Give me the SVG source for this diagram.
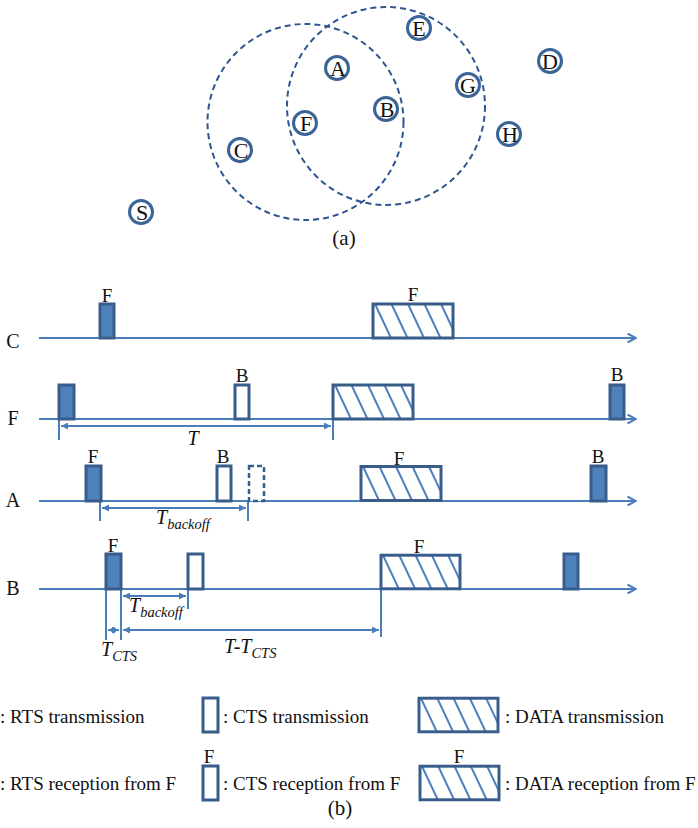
<svg xmlns="http://www.w3.org/2000/svg" xmlns:xlink="http://www.w3.org/1999/xlink" width="698" height="828" viewBox="0 0 698 828">
  <style>
    text { font-family: "Liberation Serif", "Times New Roman", serif; fill: #111; }
    .node circle { fill: #fff; stroke: #3B6497; stroke-width: 3; }
    .node text { font-size: 22px; text-anchor: middle; }
    .range { fill: none; stroke: #2F5590; stroke-width: 2; stroke-dasharray: 6 4; }
    .axis { fill: none; stroke: #4A7EBB; stroke-width: 2.2; marker-end: url(#open); }
    .dim { fill: none; stroke: #4A7EBB; stroke-width: 2; }
    .tick { fill: none; stroke: #4A7EBB; stroke-width: 2; }
    .rts { fill: #4F81BD; stroke: #385D8A; stroke-width: 3; }
    .cts { fill: #fff; stroke: #385D8A; stroke-width: 3; }
    .ctsd { fill: #fff; stroke: #385D8A; stroke-width: 2.5; stroke-dasharray: 5 3; }
    .row { font-size: 20px; text-anchor: middle; }
    .tag { font-size: 19px; text-anchor: middle; }
    .legend { font-size: 19px; }
    .it { font-style: italic; }
  </style>
  <defs>
    <marker id="open" viewBox="0 0 10 10" refX="9" refY="5" markerWidth="10" markerHeight="10" markerUnits="userSpaceOnUse" orient="auto">
      <path d="M0.5,0.5 L9,5 L0.5,9.5" fill="none" stroke="#4A7EBB" stroke-width="2"/>
    </marker>
    <marker id="tri" viewBox="0 0 8 8" refX="8" refY="4" markerWidth="8" markerHeight="7" markerUnits="userSpaceOnUse" orient="auto-start-reverse">
      <path d="M0,0 L8,4 L0,8 z" fill="#4A7EBB"/>
    </marker>
    <!-- hatched DATA frame, 80 x 34 -->
    <symbol id="data" viewBox="0 0 80 34" width="80" height="34" overflow="visible">
      <path d="M2,0 L18,34 M18.5,0 L34.5,34 M35,0 L51,34 M51.5,0 L67.5,34 M68,0 L80,25.5" stroke="#4F81BD" stroke-width="2" fill="none"/>
      <rect x="0" y="0" width="80" height="34" fill="none" stroke="#385D8A" stroke-width="3"/>
    </symbol>
  </defs>

  <rect width="698" height="828" fill="#fff"/>

  <!-- (a) topology -->
  <g id="ranges">
    <circle class="range" cx="305.5" cy="122" r="98"/>
    <circle class="range" cx="386" cy="106" r="99"/>
  </g>
  <g id="node-E" class="node"><circle cx="419" cy="28" r="11.5"/><text x="419" y="35.5">E</text></g>
  <g id="node-A" class="node"><circle cx="337" cy="68" r="11.5"/><text x="338" y="75.5">A</text></g>
  <g id="node-D" class="node"><circle cx="550" cy="61" r="11.5"/><text x="550" y="68.5">D</text></g>
  <g id="node-G" class="node"><circle cx="468" cy="85" r="11.5"/><text x="468" y="92.5">G</text></g>
  <g id="node-B" class="node"><circle cx="386" cy="109" r="11.5"/><text x="387" y="116.5">B</text></g>
  <g id="node-F" class="node"><circle cx="305" cy="123" r="11.5"/><text x="306" y="130.5">F</text></g>
  <g id="node-H" class="node"><circle cx="509" cy="134" r="11.5"/><text x="510" y="141.5">H</text></g>
  <g id="node-C" class="node"><circle cx="240" cy="150" r="11.5"/><text x="241" y="157.5">C</text></g>
  <g id="node-S" class="node"><circle cx="141" cy="212" r="11.5"/><text x="142" y="219.5">S</text></g>
  <text x="344" y="245" font-size="21" text-anchor="middle">(a)</text>

  <!-- (b) timelines -->
  <g id="connectors">
    <line class="axis" x1="39" y1="338" x2="636" y2="338"/>
    <line class="axis" x1="39" y1="419" x2="636" y2="419"/>
    <line class="axis" x1="39" y1="501" x2="636" y2="501"/>
    <line class="axis" x1="39" y1="589" x2="636" y2="589"/>

    <!-- T -->
    <line class="tick" x1="59" y1="419" x2="59" y2="440"/>
    <line class="tick" x1="333" y1="419" x2="333" y2="440"/>
    <line class="dim" x1="61" y1="426" x2="331" y2="426" marker-start="url(#tri)" marker-end="url(#tri)"/>

    <!-- T_backoff on A -->
    <line class="tick" x1="100" y1="501" x2="100" y2="521"/>
    <line class="tick" x1="248" y1="501" x2="248" y2="521"/>
    <line class="dim" x1="102" y1="508" x2="246" y2="508" marker-start="url(#tri)" marker-end="url(#tri)"/>

    <!-- T_backoff, T_CTS and T-T_CTS on B -->
    <line class="tick" x1="188" y1="589" x2="188" y2="609"/>
    <line class="dim" x1="123" y1="596" x2="186" y2="596" marker-start="url(#tri)" marker-end="url(#tri)"/>
    <line class="tick" x1="106" y1="589" x2="106" y2="640"/>
    <line class="tick" x1="121" y1="589" x2="121" y2="640"/>
    <line class="tick" x1="381" y1="589" x2="381" y2="637"/>
    <line class="dim" x1="108" y1="630" x2="119" y2="630" marker-start="url(#tri)" marker-end="url(#tri)"/>
    <line class="dim" x1="123" y1="630" x2="379" y2="630" marker-start="url(#tri)" marker-end="url(#tri)"/>
  </g>

  <g id="row-C">
    <text class="row" x="13" y="348">C</text>
    <rect class="rts" x="100" y="304" width="14" height="34"/>
    <text class="tag" x="107" y="302">F</text>
    <use href="#data" xlink:href="#data" x="373" y="304" width="80" height="34"/>
    <text class="tag" x="413" y="301">F</text>
  </g>

  <g id="row-F">
    <text class="row" x="13" y="425">F</text>
    <rect class="rts" x="59" y="385" width="15" height="34"/>
    <rect class="cts" x="235" y="385" width="14" height="34"/>
    <text class="tag" x="242" y="382">B</text>
    <use href="#data" xlink:href="#data" x="333" y="385" width="80" height="34"/>
    <rect class="rts" x="610" y="385" width="14" height="34"/>
    <text class="tag" x="617" y="381">B</text>
    <text class="it" x="193" y="445" font-size="20" text-anchor="middle">T</text>
  </g>

  <g id="row-A">
    <text class="row" x="13" y="507">A</text>
    <rect class="rts" x="86" y="466" width="15" height="35"/>
    <text class="tag" x="93" y="463">F</text>
    <rect class="cts" x="217" y="466" width="14" height="35"/>
    <text class="tag" x="223" y="463">B</text>
    <rect class="ctsd" x="249" y="466" width="15" height="35"/>
    <use href="#data" xlink:href="#data" x="361" y="466" width="80" height="35"/>
    <text class="tag" x="399" y="465">F</text>
    <rect class="rts" x="591" y="466" width="15" height="35"/>
    <text class="tag" x="598" y="463">B</text>
    <text class="it" x="156" y="524" font-size="20">T<tspan font-size="14.5" dy="5">backoff</tspan></text>
  </g>

  <g id="row-B">
    <text class="row" x="13" y="595">B</text>
    <rect class="rts" x="106" y="554" width="15" height="35"/>
    <text class="tag" x="113" y="552">F</text>
    <rect class="cts" x="188" y="554" width="15" height="35"/>
    <use href="#data" xlink:href="#data" x="381" y="555" width="79" height="34"/>
    <text class="tag" x="419" y="553">F</text>
    <rect class="rts" x="564" y="554" width="14" height="35"/>
    <text class="it" x="129" y="612" font-size="20">T<tspan font-size="14.5" dy="5">backoff</tspan></text>
    <text class="it" x="101" y="656" font-size="20">T<tspan font-size="14.5" dy="5">CTS</tspan></text>
    <text class="it" x="224" y="653" font-size="20">T-T<tspan font-size="14.5" dy="5">CTS</tspan></text>
  </g>

  <!-- legend -->
  <g id="legend">
    <text class="legend" x="0" y="723">: RTS transmission</text>
    <rect class="cts" x="203" y="698" width="15" height="34"/>
    <text class="legend" x="223" y="723">: CTS transmission</text>
    <use href="#data" xlink:href="#data" x="419" y="698" width="79" height="34"/>
    <text class="legend" x="505" y="723">: DATA transmission</text>

    <text class="legend" x="0" y="790">: RTS reception from F</text>
    <text class="tag" x="209" y="763">F</text>
    <rect class="cts" x="203" y="766" width="15" height="34"/>
    <text class="legend" x="223" y="790">: CTS reception from F</text>
    <text class="tag" x="459" y="763">F</text>
    <use href="#data" xlink:href="#data" x="420" y="766" width="79" height="34"/>
    <text class="legend" x="505" y="790">: DATA reception from F</text>
    <text x="340" y="815" font-size="21" text-anchor="middle">(b)</text>
  </g>
</svg>
